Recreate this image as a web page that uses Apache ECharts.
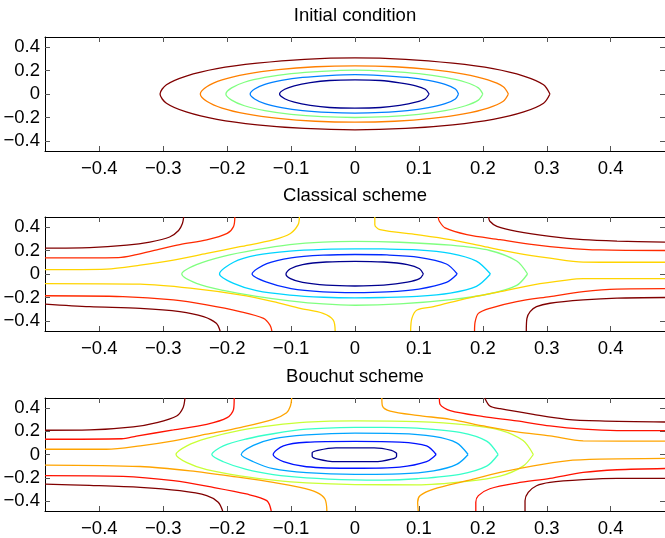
<!DOCTYPE html>
<html>
<head>
<meta charset="utf-8">
<script src="https://cdn.jsdelivr.net/npm/echarts@6/dist/echarts.min.js"></script>
<style>
  html, body { margin: 0; padding: 0; background: #fff; }
  #chart { width: 665px; height: 538px; }
</style>
</head>
<body>
<div id="chart"></div>
<script>
// Tick positions and their labels
const xTickValues = [-0.4, -0.3, -0.2, -0.1, 0, 0.1, 0.2, 0.3, 0.4];
const yTickValues = [-0.4, -0.2, 0, 0.2, 0.4];
const panelTitles = ['Initial condition', 'Classical scheme', 'Bouchut scheme'];

// ---- Initial condition: closed level curves, [x, y] ----
const initDarkRed = [[0.305,0],[0.295,0.079],[0.264,0.153],[0.216,0.216],[0.153,0.262],[0.079,0.295],[0,0.307],[-0.079,0.295],[-0.153,0.262],[-0.216,0.216],[-0.264,0.153],[-0.295,0.079],[-0.305,0],[-0.295,-0.079],[-0.264,-0.153],[-0.216,-0.216],[-0.153,-0.262],[-0.079,-0.293],[0,-0.305],[0.079,-0.293],[0.153,-0.262],[0.216,-0.216],[0.264,-0.153],[0.295,-0.079],[0.305,0]];
const initOrange = [[0.24,0],[0.232,0.062],[0.208,0.12],[0.17,0.17],[0.12,0.208],[0.062,0.232],[0,0.24],[-0.062,0.232],[-0.12,0.208],[-0.17,0.17],[-0.208,0.12],[-0.232,0.062],[-0.242,0],[-0.232,-0.062],[-0.208,-0.12],[-0.17,-0.17],[-0.12,-0.208],[-0.062,-0.232],[0,-0.24],[0.062,-0.232],[0.12,-0.208],[0.17,-0.17],[0.208,-0.12],[0.232,-0.062],[0.24,0]];
const initGreen = [[0.2,0],[0.193,0.052],[0.173,0.1],[0.141,0.141],[0.1,0.173],[0.052,0.193],[0,0.203],[-0.052,0.193],[-0.1,0.173],[-0.141,0.141],[-0.173,0.1],[-0.193,0.052],[-0.202,0],[-0.193,-0.052],[-0.173,-0.1],[-0.141,-0.141],[-0.1,-0.173],[-0.052,-0.193],[0,-0.2],[0.052,-0.193],[0.1,-0.173],[0.141,-0.141],[0.173,-0.1],[0.193,-0.052],[0.2,0]];
const initBlue = [[0.162,0],[0.157,0.042],[0.141,0.082],[0.115,0.115],[0.082,0.141],[0.042,0.157],[0,0.165],[-0.042,0.157],[-0.082,0.141],[-0.115,0.115],[-0.141,0.082],[-0.157,0.042],[-0.164,0],[-0.157,-0.042],[-0.141,-0.082],[-0.115,-0.115],[-0.082,-0.141],[-0.042,-0.157],[0,-0.163],[0.042,-0.157],[0.082,-0.141],[0.115,-0.115],[0.141,-0.082],[0.157,-0.042],[0.162,0]];
const initNavy = [[0.116,0],[0.11,0.04],[0.095,0.07],[0.07,0.095],[0.04,0.115],[0,0.12],[-0.04,0.115],[-0.07,0.097],[-0.095,0.07],[-0.11,0.04],[-0.118,0],[-0.11,-0.04],[-0.095,-0.07],[-0.07,-0.097],[-0.04,-0.115],[0,-0.12],[0.04,-0.115],[0.07,-0.097],[0.095,-0.07],[0.11,-0.04],[0.116,0]];

// ---- Classical scheme ----
const classicalNavy = [[0.107,0],[0.101,0.045],[0.082,0.08],[0.045,0.102],[0,0.108],[-0.045,0.102],[-0.082,0.08],[-0.101,0.045],[-0.108,0],[-0.101,-0.04],[-0.082,-0.072],[-0.045,-0.095],[0,-0.102],[0.045,-0.095],[0.082,-0.07],[0.101,-0.04],[0.107,0]];
const classicalBlue = [[0.16,0],[0.143,0.085],[0.1,0.142],[0.05,0.162],[0,0.166],[-0.05,0.16],[-0.1,0.138],[-0.138,0.088],[-0.161,0],[-0.138,-0.07],[-0.1,-0.125],[-0.05,-0.152],[0,-0.158],[0.05,-0.152],[0.1,-0.128],[0.143,-0.072],[0.16,0]];
const classicalCyan = [[0.212,0],[0.19,0.11],[0.149,0.176],[0.097,0.206],[0.044,0.213],[0,0.214],[-0.049,0.21],[-0.102,0.195],[-0.154,0.16],[-0.19,0.1],[-0.212,0],[-0.19,-0.08],[-0.154,-0.142],[-0.102,-0.18],[-0.049,-0.198],[0,-0.203],[0.044,-0.2],[0.097,-0.19],[0.149,-0.162],[0.19,-0.105],[0.212,0]];
const classicalGreen = [[0.27,0],[0.253,0.11],[0.211,0.2],[0.15,0.245],[0.07,0.27],[0,0.277],[-0.05,0.272],[-0.102,0.25],[-0.154,0.207],[-0.206,0.15],[-0.248,0.079],[-0.271,0],[-0.248,-0.079],[-0.206,-0.14],[-0.154,-0.19],[-0.102,-0.228],[-0.05,-0.255],[0,-0.266],[0.07,-0.255],[0.15,-0.218],[0.211,-0.168],[0.253,-0.097],[0.27,0]];
const classicalYellowTL = [[-0.485,0.037],[-0.389,0.042],[-0.336,0.075],[-0.284,0.118],[-0.232,0.175],[-0.18,0.232],[-0.128,0.29],[-0.101,0.345],[-0.089,0.42],[-0.087,0.485]];
const classicalRedTL = [[-0.485,0.137],[-0.37,0.14],[-0.342,0.165],[-0.31,0.205],[-0.274,0.25],[-0.232,0.29],[-0.2,0.345],[-0.19,0.405],[-0.188,0.485]];
const classicalDarkRedTL = [[-0.485,0.22],[-0.415,0.224],[-0.357,0.245],[-0.321,0.272],[-0.29,0.315],[-0.276,0.37],[-0.27,0.43],[-0.268,0.485]];
const classicalYellowBL = [[-0.485,-0.082],[-0.336,-0.087],[-0.258,-0.121],[-0.18,-0.178],[-0.128,-0.235],[-0.086,-0.292],[-0.05,-0.335],[-0.034,-0.392],[-0.031,-0.485]];
const classicalRedBL = [[-0.485,-0.185],[-0.363,-0.192],[-0.284,-0.221],[-0.232,-0.263],[-0.18,-0.32],[-0.143,-0.378],[-0.133,-0.435],[-0.13,-0.485]];
const classicalDarkRedBL = [[-0.485,-0.256],[-0.415,-0.278],[-0.336,-0.292],[-0.274,-0.32],[-0.237,-0.363],[-0.217,-0.42],[-0.211,-0.485]];
const classicalYellowTR = [[0.031,0.485],[0.031,0.42],[0.039,0.378],[0.097,0.335],[0.149,0.292],[0.201,0.235],[0.253,0.178],[0.305,0.135],[0.357,0.101],[0.41,0.1],[0.485,0.1]];
const classicalRedTR = [[0.13,0.485],[0.132,0.449],[0.141,0.392],[0.175,0.335],[0.227,0.292],[0.279,0.25],[0.331,0.221],[0.383,0.205],[0.485,0.2]];
const classicalDarkRedTR = [[0.209,0.485],[0.211,0.449],[0.222,0.406],[0.253,0.363],[0.305,0.32],[0.357,0.292],[0.41,0.28],[0.485,0.272]];
const classicalYellowBR = [[0.485,-0.04],[0.357,-0.04],[0.331,-0.052],[0.279,-0.092],[0.227,-0.15],[0.175,-0.207],[0.123,-0.278],[0.097,-0.306],[0.089,-0.378],[0.087,-0.485]];
const classicalRedBR = [[0.485,-0.125],[0.41,-0.128],[0.357,-0.15],[0.305,-0.192],[0.253,-0.235],[0.211,-0.292],[0.193,-0.335],[0.188,-0.406],[0.187,-0.485]];
const classicalDarkRedBR = [[0.485,-0.2],[0.41,-0.205],[0.357,-0.221],[0.305,-0.249],[0.284,-0.278],[0.274,-0.32],[0.269,-0.378],[0.268,-0.485]];

// ---- Bouchut scheme ----
const bouchutNavy = [[0.065,0.012],[0.057,0.036],[0.03,0.057],[-0.03,0.057],[-0.058,0.036],[-0.067,0.014],[-0.067,-0.015],[-0.058,-0.04],[-0.03,-0.062],[0.03,-0.062],[0.057,-0.04],[0.065,-0.014],[0.065,0.012]];
const bouchutBlue = [[0.127,0],[0.112,0.074],[0.07,0.106],[0,0.112],[-0.076,0.105],[-0.112,0.074],[-0.128,0],[-0.112,-0.062],[-0.076,-0.105],[0,-0.118],[0.07,-0.108],[0.112,-0.062],[0.127,0]];
const bouchutSky = [[0.177,0],[0.159,0.1],[0.123,0.155],[0.07,0.18],[0,0.183],[-0.076,0.168],[-0.128,0.135],[-0.159,0.078],[-0.178,0],[-0.159,-0.062],[-0.128,-0.122],[-0.076,-0.156],[0,-0.17],[0.07,-0.166],[0.123,-0.14],[0.159,-0.085],[0.177,0]];
const bouchutAqua = [[0.224,0],[0.206,0.115],[0.164,0.19],[0.097,0.226],[0.044,0.233],[0,0.232],[-0.076,0.217],[-0.128,0.178],[-0.17,0.133],[-0.206,0.074],[-0.224,0],[-0.206,-0.062],[-0.17,-0.128],[-0.128,-0.172],[-0.076,-0.2],[0,-0.218],[0.044,-0.22],[0.097,-0.208],[0.164,-0.17],[0.206,-0.1],[0.224,0]];
const bouchutLime = [[0.279,0],[0.263,0.12],[0.227,0.21],[0.175,0.255],[0.097,0.283],[0,0.289],[-0.076,0.278],[-0.128,0.25],[-0.18,0.207],[-0.232,0.138],[-0.263,0.074],[-0.28,0],[-0.263,-0.07],[-0.232,-0.13],[-0.18,-0.183],[-0.128,-0.22],[-0.076,-0.244],[0,-0.258],[0.097,-0.26],[0.175,-0.23],[0.227,-0.186],[0.263,-0.1],[0.279,0]];
const bouchutOrangeTL = [[-0.485,0.045],[-0.389,0.045],[-0.336,0.074],[-0.284,0.117],[-0.232,0.174],[-0.18,0.231],[-0.128,0.302],[-0.107,0.359],[-0.101,0.416],[-0.099,0.485]];
const bouchutRedTL = [[-0.485,0.131],[-0.365,0.135],[-0.342,0.158],[-0.284,0.211],[-0.232,0.259],[-0.2,0.316],[-0.19,0.387],[-0.189,0.485]];
const bouchutDarkRedTL = [[-0.485,0.208],[-0.415,0.211],[-0.347,0.237],[-0.31,0.274],[-0.279,0.331],[-0.269,0.402],[-0.266,0.485]];
const bouchutOrangeBL = [[-0.485,-0.091],[-0.336,-0.103],[-0.258,-0.14],[-0.18,-0.197],[-0.128,-0.239],[-0.086,-0.282],[-0.06,-0.325],[-0.047,-0.382],[-0.044,-0.485]];
const bouchutRedBL = [[-0.485,-0.182],[-0.363,-0.188],[-0.284,-0.225],[-0.222,-0.282],[-0.17,-0.339],[-0.138,-0.396],[-0.131,-0.485]];
const bouchutDarkRedBL = [[-0.485,-0.254],[-0.415,-0.265],[-0.336,-0.282],[-0.274,-0.311],[-0.232,-0.353],[-0.214,-0.41],[-0.207,-0.485]];
const bouchutOrangeTR = [[0.042,0.485],[0.043,0.416],[0.055,0.373],[0.097,0.336],[0.149,0.302],[0.201,0.245],[0.253,0.194],[0.305,0.16],[0.357,0.117],[0.485,0.115]];
const bouchutRedTR = [[0.132,0.485],[0.133,0.432],[0.149,0.376],[0.201,0.325],[0.253,0.288],[0.305,0.245],[0.357,0.217],[0.41,0.205],[0.485,0.205]];
const bouchutDarkRedTR = [[0.203,0.485],[0.211,0.416],[0.227,0.393],[0.279,0.344],[0.331,0.302],[0.383,0.288],[0.485,0.279]];
const bouchutOrangeBR = [[0.485,-0.034],[0.383,-0.04],[0.331,-0.054],[0.279,-0.097],[0.227,-0.154],[0.175,-0.225],[0.123,-0.297],[0.102,-0.353],[0.098,-0.41],[0.099,-0.485]];
const bouchutRedBR = [[0.485,-0.12],[0.41,-0.131],[0.357,-0.154],[0.305,-0.205],[0.253,-0.245],[0.211,-0.294],[0.193,-0.353],[0.189,-0.41],[0.189,-0.485]];
const bouchutDarkRedBR = [[0.485,-0.205],[0.41,-0.205],[0.357,-0.216],[0.305,-0.239],[0.284,-0.268],[0.271,-0.325],[0.266,-0.396],[0.266,-0.485]];

// Jet colormap colours of each level
const COL = {
  navy: '#00008f', blue1: '#0080ff', green1: '#80ff80', orange1: '#ff8000', darkred: '#800000',
  blue2: '#002aff', cyan2: '#00d4ff', green2: '#80ff80', gold2: '#ffd400', red2: '#ff2a00',
  blue3: '#0012ff', sky3: '#00a4ff', aqua3: '#36ffc9', lime3: '#c9ff36', orange3: '#ffa400', red3: '#ff1200'
};

const panels = [
  { title: panelTitles[0], curves: [
    [initDarkRed, COL.darkred], [initOrange, COL.orange1], [initGreen, COL.green1],
    [initBlue, COL.blue1], [initNavy, COL.navy]
  ]},
  { title: panelTitles[1], curves: [
    [classicalNavy, COL.navy], [classicalBlue, COL.blue2], [classicalCyan, COL.cyan2], [classicalGreen, COL.green2],
    [classicalYellowTL, COL.gold2], [classicalRedTL, COL.red2], [classicalDarkRedTL, COL.darkred],
    [classicalYellowBL, COL.gold2], [classicalRedBL, COL.red2], [classicalDarkRedBL, COL.darkred],
    [classicalYellowTR, COL.gold2], [classicalRedTR, COL.red2], [classicalDarkRedTR, COL.darkred],
    [classicalYellowBR, COL.gold2], [classicalRedBR, COL.red2], [classicalDarkRedBR, COL.darkred]
  ]},
  { title: panelTitles[2], curves: [
    [bouchutNavy, COL.navy], [bouchutBlue, COL.blue3], [bouchutSky, COL.sky3], [bouchutAqua, COL.aqua3], [bouchutLime, COL.lime3],
    [bouchutOrangeTL, COL.orange3], [bouchutRedTL, COL.red3], [bouchutDarkRedTL, COL.darkred],
    [bouchutOrangeBL, COL.orange3], [bouchutRedBL, COL.red3], [bouchutDarkRedBL, COL.darkred],
    [bouchutOrangeTR, COL.orange3], [bouchutRedTR, COL.red3], [bouchutDarkRedTR, COL.darkred],
    [bouchutOrangeBR, COL.orange3], [bouchutRedBR, COL.red3], [bouchutDarkRedBR, COL.darkred]
  ]}
];

const FONT = 'Liberation Sans, Arial, Helvetica, sans-serif';
const FS = 18.5;
const LIM = 0.485;
const gridTops = [37, 217, 398];
const gridHeight = 114;
const titleCenters = [16, 196, 377];

const fmt = v => (v < 0 ? '\u2212' + String(Math.abs(v)) : String(v));

const grids = [], xAxes = [], yAxes = [], series = [], titles = [];

panels.forEach((p, i) => {
  grids.push({ left: 45, top: gridTops[i], width: 620, height: gridHeight, containLabel: false });
  titles.push({
    text: p.title, left: 355, top: titleCenters[i] - FS / 2, textAlign: 'center', padding: 0,
    textStyle: { fontFamily: FONT, fontSize: FS, fontWeight: 'normal', color: '#000', lineHeight: FS }
  });
  const tickStyle = { show: true, inside: true, length: 5, lineStyle: { color: '#555', width: 1 } };
  const lineStyle = { show: true, onZero: false, lineStyle: { color: '#000', width: 1 } };
  // bottom and top x axes
  xAxes.push({
    type: 'value', gridIndex: i, position: 'bottom', min: -LIM, max: LIM,
    axisLine: lineStyle, splitLine: { show: false },
    axisTick: Object.assign({ customValues: xTickValues }, tickStyle),
    axisLabel: { customValues: xTickValues, formatter: fmt, margin: 8, color: '#000', fontFamily: FONT, fontSize: FS }
  });
  xAxes.push({
    type: 'value', gridIndex: i, position: 'top', min: -LIM, max: LIM,
    axisLine: lineStyle, splitLine: { show: false },
    axisTick: Object.assign({ customValues: xTickValues }, tickStyle),
    axisLabel: { show: false }
  });
  // left and right y axes
  yAxes.push({
    type: 'value', gridIndex: i, position: 'left', min: -LIM, max: LIM,
    axisLine: lineStyle, splitLine: { show: false },
    axisTick: Object.assign({ customValues: yTickValues }, tickStyle),
    axisLabel: { customValues: yTickValues, formatter: fmt, margin: 5, color: '#000', fontFamily: FONT, fontSize: FS }
  });
  yAxes.push({
    type: 'value', gridIndex: i, position: 'right', min: -LIM, max: LIM,
    axisLine: lineStyle, splitLine: { show: false },
    axisTick: Object.assign({ customValues: yTickValues }, tickStyle),
    axisLabel: { show: false }
  });
  p.curves.forEach(([pts, color]) => {
    series.push({
      type: 'line', xAxisIndex: 2 * i, yAxisIndex: 2 * i, data: pts,
      showSymbol: false, symbol: 'none', smooth: 0.3, silent: true, animation: false,
      lineStyle: { color: color, width: 1.3 }
    });
  });
});

const chart = echarts.init(document.getElementById('chart'), null, { renderer: 'canvas' });
chart.setOption({
  backgroundColor: '#fff',
  animation: false,
  title: titles,
  grid: grids,
  xAxis: xAxes,
  yAxis: yAxes,
  series: series
});
</script>
</body>
</html>
